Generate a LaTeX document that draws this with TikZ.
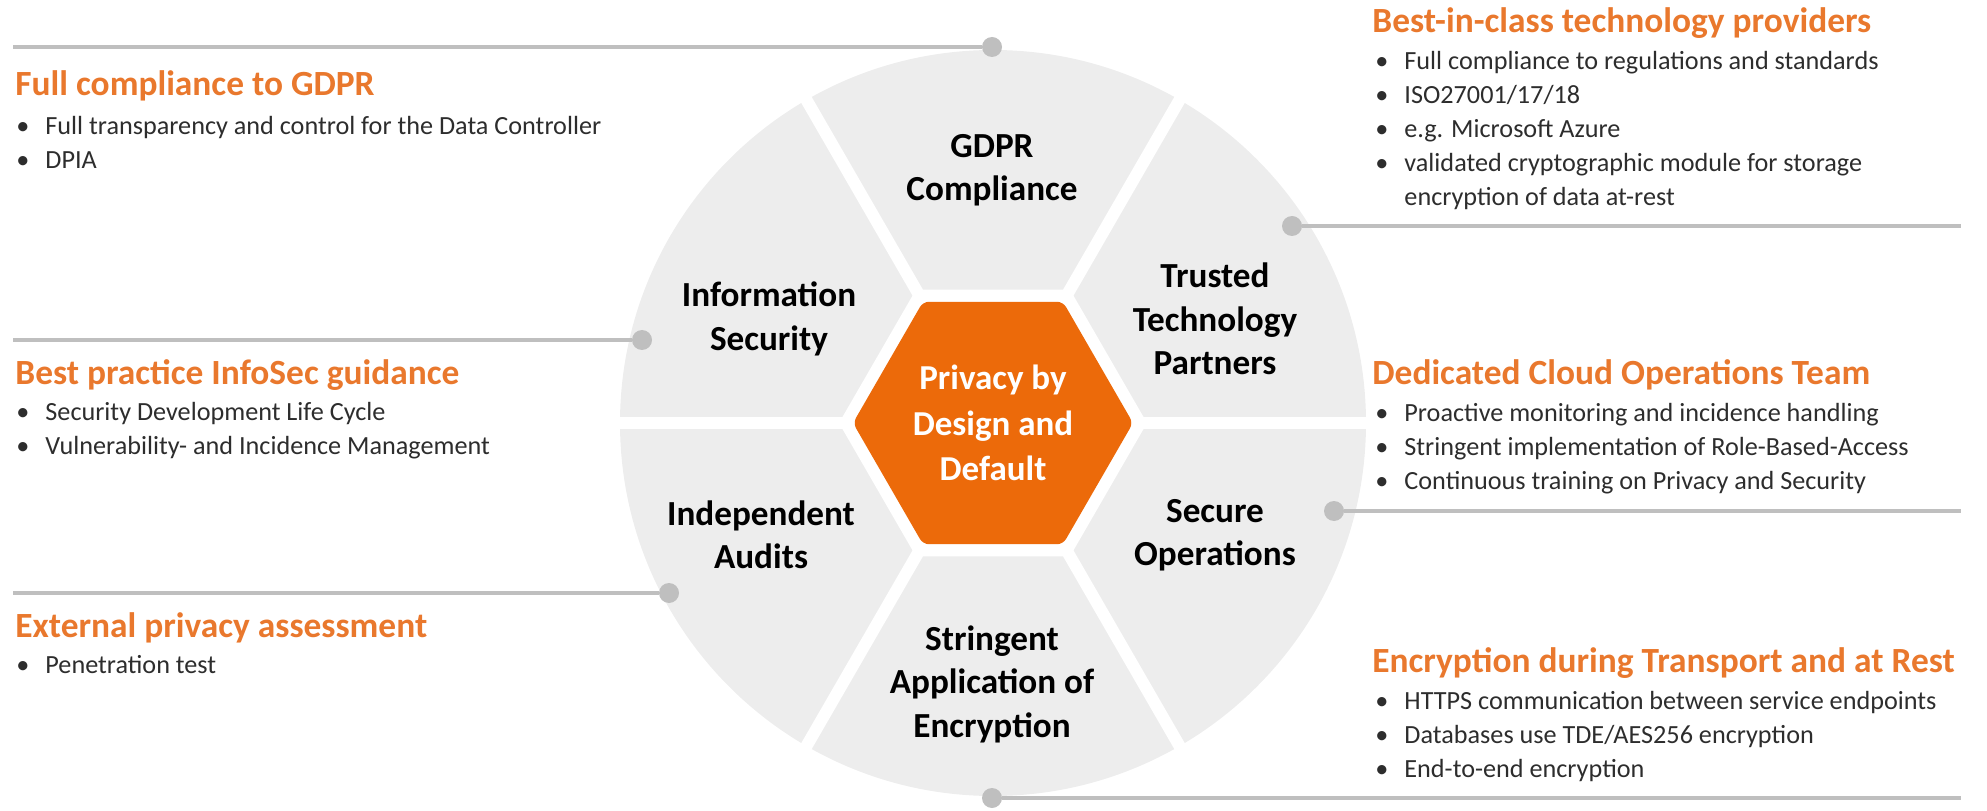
\documentclass[tikz,border=0pt]{standalone}
\usepackage{fontspec}
\setmainfont{Carlito}
\usetikzlibrary{shapes.geometric}
\definecolor{pdorange}{RGB}{236,106,10}
\definecolor{pdtitle}{RGB}{233,120,45}
\definecolor{pdgray}{RGB}{237,237,237}
\definecolor{pdline}{RGB}{191,191,191}
\definecolor{pdtext}{RGB}{45,45,45}
\tikzset{
  seglabel/.style={align=center, font=\fontsize{17.6}{21.75}\selectfont\bfseries, text=black},
  headline/.style={anchor=west, inner sep=0, font=\fontsize{17.7}{21}\selectfont\bfseries, text=pdtitle},
  bullets/.style={anchor=west, inner sep=0, font=\fontsize{13.1}{17}\selectfont, text=pdtext},
  pin/.style={circle, fill=pdline, inner sep=0, minimum size=10pt},
  lead/.style={pdline, line width=1.75pt},
  gap/.style={white, line width=6pt},
  hexa/.style={regular polygon, regular polygon sides=6, inner sep=0},
}
\newcommand{\bl}[1]{\begin{tabular}{@{}l@{\hspace{8pt}}l@{}}#1\end{tabular}}
\begin{document}
\begin{tikzpicture}[x=0.5pt,y=0.5pt]
\useasboundingbox (0,0) rectangle (1987,810);

% wheel
\fill[pdgray] (993,387) circle (373);
\node[hexa, minimum size=154pt, fill=white] (rim) at (993,387) {};
\foreach \a in {0,60,...,300}
  \draw[gap] (rim.center) -- ++(\a:380);
\node[hexa, minimum size=140pt, fill=pdorange, rounded corners=3pt, text=white,
  align=center, font=\fontsize{17.5}{22.75}\selectfont\bfseries] (core) at (993,387) {Privacy by\\Design and\\Default};

% segments
\node[seglabel] (gdpr) at (992,640) {GDPR\\Compliance};
\node[seglabel] (infosec) at (769,491) {Information\\Security};
\node[seglabel] (trusted) at (1215,491) {Trusted\\Technology\\Partners};
\node[seglabel] (audits) at (761,275) {Independent\\Audits};
\node[seglabel] (secops) at (1215,275) {Secure\\Operations};
\node[seglabel] (crypto) at (992,126) {Stringent\\Application of\\Encryption};

% pins and leader lines
\node[pin] (p1) at (992,763) {};
\node[pin] (p2) at (1292,584) {};
\node[pin] (p3) at (642,470) {};
\node[pin] (p4) at (1334,299) {};
\node[pin] (p5) at (669,217) {};
\node[pin] (p6) at (992,12) {};
\coordinate (e1) at (13,763);
\coordinate (e2) at (1961,584);
\coordinate (e3) at (13,470);
\coordinate (e4) at (1961,299);
\coordinate (e5) at (13,217);
\coordinate (e6) at (1961,12);
\draw[lead] (p1) -- (e1);
\draw[lead] (p2) -- (e2);
\draw[lead] (p3) -- (e3);
\draw[lead] (p4) -- (e4);
\draw[lead] (p5) -- (e5);
\draw[lead] (p6) -- (e6);

% left texts
\node[headline] (h1) at (15,724) {Full compliance to GDPR};
\node[bullets] (b1) at (16,665) {\bl{\textbullet & Full transparency and control for the Data Controller\\
  \textbullet & DPIA}};
\node[headline] (h2) at (15,435) {Best practice InfoSec guidance};
\node[bullets] (b2) at (16,379) {\bl{\textbullet & Security Development Life Cycle\\
  \textbullet & Vulnerability- and Incidence Management}};
\node[headline] (h3) at (15,182) {External privacy assessment};
\node[bullets] (b3) at (16,143) {\bl{\textbullet & Penetration test}};

% right texts
\node[headline] (h4) at (1372,787) {Best-in-class technology providers};
\node[bullets] (b4) at (1375,679.5) {\bl{\textbullet & Full compliance to regulations and standards\\
  \textbullet & ISO27001/17/18\\
  \textbullet & e.g. Microsoft Azure\\
  \textbullet & validated cryptographic module for storage\\
  & encryption of data at-rest}};
\node[headline] (h5) at (1372,435) {Dedicated Cloud Operations Team};
\node[bullets] (b5) at (1375,361) {\bl{\textbullet & Proactive monitoring and incidence handling\\
  \textbullet & Stringent implementation of Role-Based-Access\\
  \textbullet & Continuous training on Privacy and Security}};
\node[headline] (h6) at (1372,147) {Encryption during Transport and at Rest};
\node[bullets] (b6) at (1375,73) {\bl{\textbullet & HTTPS communication between service endpoints\\
  \textbullet & Databases use TDE/AES256 encryption\\
  \textbullet & End-to-end encryption}};

\end{tikzpicture}
\end{document}
